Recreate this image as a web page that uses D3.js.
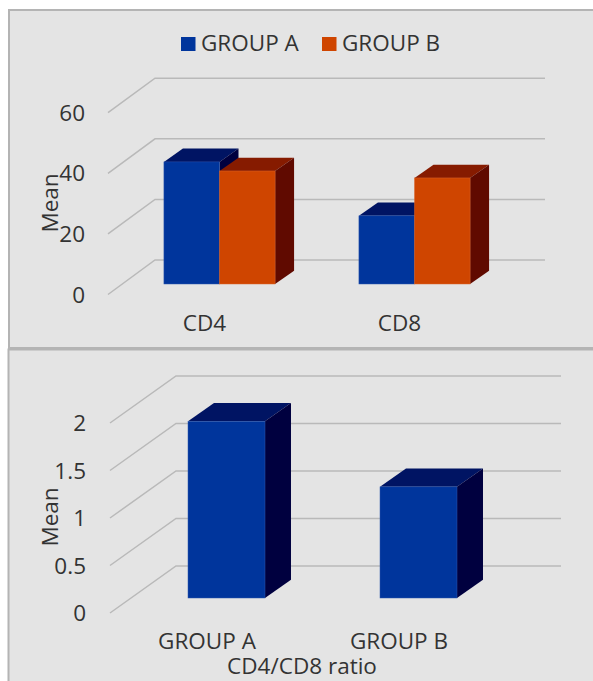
<!DOCTYPE html>
<html>
<head>
<meta charset="utf-8">
<script src="https://cdn.jsdelivr.net/npm/d3@7/dist/d3.min.js"></script>
<style>
  html, body { margin: 0; padding: 0; background: #fff; }
  svg { display: block; }
  text { font-family: "Open Sans", "Noto Sans", sans-serif; fill: #333; }
</style>
</head>
<body>
<svg id="chart" width="593" height="681"></svg>
<script>
// Mean T-cell values per group
const subsets = ["CD4", "CD8"];
const groups = ["GROUP A", "GROUP B"];
const groupAMeans = [40.3, 22.5];
const groupBMeans = [37.3, 35];
const subsetTicks = [0, 20, 40, 60];

// Mean CD4/CD8 ratio per group
const ratioMeans = [1.86, 1.17];
const ratioTicks = [0, 0.5, 1, 1.5, 2];

const palette = {
  "GROUP A": { front: "#00359c", top: "#001463", side: "#00003f", edge: "#2f58ad" },
  "GROUP B": { front: "#cf4500", top: "#861b00", side: "#600a00", edge: "#d9642a" }
};

const svg = d3.select("#chart");
const fontSize = 22.5;

// Panel backgrounds
function panel(x, y, w, h) {
  svg.append("rect").attr("x", x).attr("y", y).attr("width", w).attr("height", h)
    .attr("fill", "#e4e4e4").attr("stroke", "#b4b4b4").attr("stroke-width", 2);
}
panel(9, 10, 600, 338);
panel(8.5, 349.5, 600, 360);

// Draws one pseudo-3D column chart: a floor and back wall with gridlines, then boxes.
function drawChart(cfg) {
  const g = svg.append("g");
  const y = d3.scaleLinear().domain(cfg.domain).range([cfg.base, cfg.base - cfg.unit * (cfg.domain[1] - cfg.domain[0])]);
  const wallY = v => y(v) + cfg.tickOffset;

  // Gridlines run along the wall and fold forward to the tick label
  g.selectAll("path.grid").data(cfg.ticks).join("path")
    .attr("class", "grid")
    .attr("fill", "none")
    .attr("stroke", "#b9b9b9")
    .attr("stroke-width", 1.5)
    .attr("d", v => d3.line()([
      [cfg.wall[0], wallY(v) + cfg.wallDepth[1]],
      [cfg.wall[0] + cfg.wallDepth[0], wallY(v)],
      [cfg.wall[1], wallY(v)]
    ]));

  g.selectAll("text.tick").data(cfg.ticks).join("text")
    .attr("class", "tick")
    .attr("text-anchor", "end")
    .attr("x", cfg.tickX)
    .attr("y", v => wallY(v) + cfg.wallDepth[1] + 8)
    .attr("font-size", fontSize)
    .text(v => v);

  const x0 = d3.scaleBand().domain(cfg.categories).range(cfg.xRange).paddingInner(cfg.padding).paddingOuter(cfg.padding / 2);
  const [dx, dy] = cfg.barDepth;

  cfg.categories.forEach((cat, ci) => {
    const x1 = d3.scaleBand().domain(cfg.series).range([x0(cat), x0(cat) + x0.bandwidth()]);
    cfg.series.forEach((s, si) => {
      const c = palette[cfg.colorOf(s)];
      const v = cfg.values[si][ci];
      const l = x1(s), r = l + x1.bandwidth(), t = y(v), b = y(0);
      const box = g.append("g");
      box.append("polygon").attr("fill", c.top)
        .attr("points", [[l, t], [l + dx, t - dy], [r + dx, t - dy], [r, t]].join(" "));
      box.append("polygon").attr("fill", c.side)
        .attr("points", [[r, t], [r + dx, t - dy], [r + dx, b - dy], [r, b]].join(" "));
      box.append("rect").attr("x", l).attr("y", t).attr("width", r - l).attr("height", b - t)
        .attr("fill", c.front).attr("stroke", c.edge).attr("stroke-width", 0.5);
    });
    g.append("text")
      .attr("text-anchor", "middle")
      .attr("x", x0(cat) + x0.bandwidth() / 2 + cfg.labelShift)
      .attr("y", cfg.labelY)
      .attr("font-size", fontSize)
      .text(cat);
  });

  g.append("text")
    .attr("text-anchor", "middle")
    .attr("transform", `translate(${cfg.titleX},${cfg.titleY}) rotate(-90)`)
    .attr("font-size", fontSize)
    .text("Mean");
}

drawChart({
  domain: [0, 60], ticks: subsetTicks, categories: subsets, series: groups,
  values: [groupAMeans, groupBMeans], colorOf: s => s,
  base: 284, unit: 3.03, tickOffset: -24, wall: [108, 545], wallDepth: [47, 34.5],
  tickX: 85, xRange: [122, 512], padding: 0.43, barDepth: [19, 13.3],
  labelShift: -15, labelY: 331, titleX: 58, titleY: 203
});

drawChart({
  domain: [0, 2], ticks: ratioTicks, categories: groups, series: ["Mean"],
  values: [ratioMeans], colorOf: () => "GROUP A",
  base: 598, unit: 95, tickOffset: -32, wall: [110, 561], wallDepth: [66, 47],
  tickX: 86, xRange: [130.5, 514.5], padding: 0.599, barDepth: [26, 18.3],
  labelShift: -19.5, labelY: 649, titleX: 58, titleY: 517
});

svg.append("text").attr("text-anchor", "middle").attr("x", 302).attr("y", 674)
  .attr("font-size", fontSize).text("CD4/CD8 ratio");

// Legend
const legendX = d3.scaleOrdinal().domain(groups).range([181, 322]);
const legend = svg.selectAll("g.legend").data(groups).join("g").attr("class", "legend")
  .attr("transform", d => `translate(${legendX(d)},37)`);
legend.append("rect").attr("width", 14.5).attr("height", 14).attr("fill", d => palette[d].front);
legend.append("text").attr("x", 20).attr("y", 13.5).attr("font-size", fontSize).text(d => d);
</script>
</body>
</html>
